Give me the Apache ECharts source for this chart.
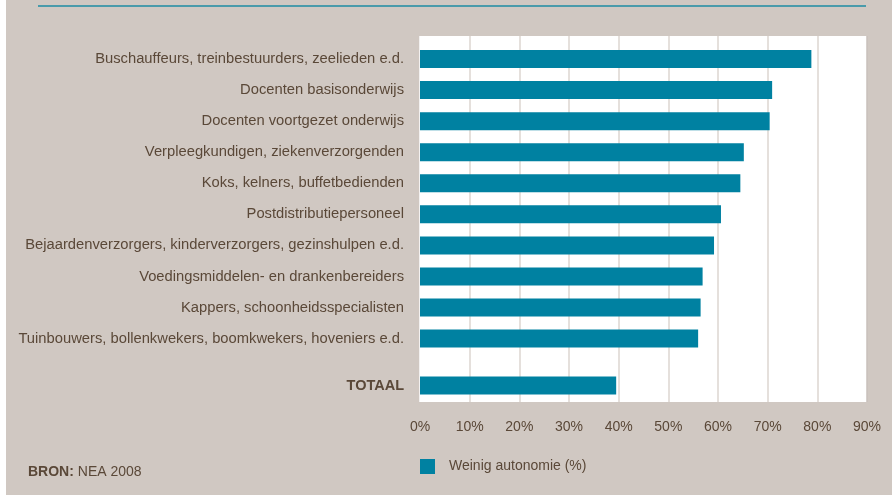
<!DOCTYPE html>
<html><head><meta charset="utf-8">
<script src="https://cdn.jsdelivr.net/npm/echarts@6/dist/echarts.min.js"></script>
<style>
html,body{margin:0;padding:0;}
body{background:linear-gradient(to right,#ffffff 6px,#d0c8c2 6px);}
#c{width:892px;height:495px;}
</style></head>
<body><div id="c"></div>
<script>
const categories = [
  'Buschauffeurs, treinbestuurders, zeelieden e.d.',
  'Docenten basisonderwijs',
  'Docenten voortgezet onderwijs',
  'Verpleegkundigen, ziekenverzorgenden',
  'Koks, kelners, buffetbedienden',
  'Postdistributiepersoneel',
  'Bejaardenverzorgers, kinderverzorgers, gezinshulpen e.d.',
  'Voedingsmiddelen- en drankenbereiders',
  'Kappers, schoonheidsspecialisten',
  'Tuinbouwers, bollenkwekers, boomkwekers, hoveniers e.d.'
];
const values = [78.8, 70.9, 70.4, 65.2, 64.5, 60.6, 59.2, 56.9, 56.5, 56.0];
const totalLabel = ['TOTAAL'];
const totalValue = [39.5];
const seriesName = 'Weinig autonomie (%)';
const sourceText = 'NEA 2008';

const txt = '#5a4838';
const bar = '#0081a1';
const font = 'Liberation Sans';

const chart = echarts.init(document.getElementById('c'), null, {renderer:'canvas'});
const gridColors = ['#ffffff','#ddd6d1','#ddd6d1','#ddd6d1','#ddd6d1','#ddd6d1','#ddd6d1','#ddd6d1','#ddd6d1','#c9c1bb'];
chart.setOption({
  backgroundColor: 'transparent',
  animation: false,
  textStyle: {fontFamily: font},
  grid: [
    {left: 420, top: 36, width: 447, height: 366, show: true, backgroundColor: '#ffffff', borderWidth: 0},
    {left: 420, top: 43.5, width: 447, height: 310.6},
    {left: 420, top: 370, width: 447, height: 31.06}
  ],
  xAxis: [
    {gridIndex: 0, type: 'value', min: 0, max: 90, interval: 10,
     axisLine: {show: false}, axisTick: {show: false},
     splitLine: {show: true, lineStyle: {color: gridColors, width: 1.5}},
     axisLabel: {formatter: '{value}%', color: txt, fontSize: 14, fontFamily: font, margin: 18}},
    {gridIndex: 1, type: 'value', min: 0, max: 90, show: false},
    {gridIndex: 2, type: 'value', min: 0, max: 90, show: false}
  ],
  yAxis: [
    {gridIndex: 0, type: 'category', data: [''], show: false},
    {gridIndex: 1, type: 'category', inverse: true, data: categories,
     axisLine: {show: false}, axisTick: {show: false}, splitLine: {show: false},
     axisLabel: {color: txt, fontSize: 14.75, fontFamily: font, margin: 16}},
    {gridIndex: 2, type: 'category', inverse: true, data: totalLabel,
     axisLine: {show: false}, axisTick: {show: false}, splitLine: {show: false},
     axisLabel: {color: txt, fontSize: 14.5, fontWeight: 'bold', fontFamily: font, margin: 16}}
  ],
  legend: {
    data: [seriesName], left: 420, top: 459, padding: 0, itemWidth: 15, itemHeight: 15, icon: 'rect',
    itemGap: 10, textStyle: {color: txt, fontSize: 14, fontFamily: font, padding: [0,0,0,9]}
  },
  series: [
    {name: seriesName, type: 'bar', xAxisIndex: 1, yAxisIndex: 1, data: values, barWidth: 18,
     itemStyle: {color: bar}},
    {name: seriesName, type: 'bar', xAxisIndex: 2, yAxisIndex: 2, data: totalValue, barWidth: 18,
     itemStyle: {color: bar}}
  ],
  graphic: [
    {type: 'rect', left: 38, top: 5, shape: {width: 828, height: 2}, style: {fill: '#4a9bab'}},
    {type: 'text', left: 28, top: 465, style: {
      text: '{b|BRON:} ' + sourceText,
      rich: {b: {fontWeight: 'bold', fontSize: 14, fill: txt, fontFamily: font}},
      fontSize: 14, fill: txt, fontFamily: font}}
  ]
});
</script></body></html>
